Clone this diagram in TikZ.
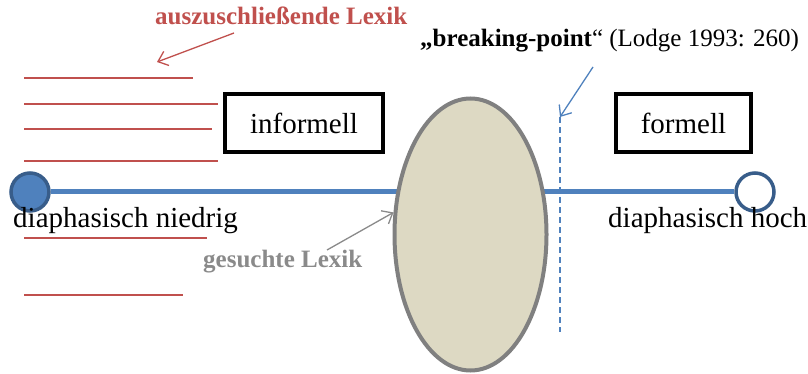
\documentclass[tikz,border=0pt]{standalone}
\usepackage{fontspec}
\setmainfont{Liberation Serif}
\usetikzlibrary{shapes.geometric,arrows.meta,backgrounds}
\definecolor{lexred}{HTML}{C0504D}
\definecolor{axisblue}{HTML}{4F81BD}
\definecolor{ringblue}{HTML}{385D8A}
\definecolor{eggfill}{HTML}{DDD9C3}
\definecolor{egggray}{HTML}{808080}
\definecolor{labelgray}{HTML}{8A8A8A}
\tikzset{
  maintext/.style={font=\fontsize{29}{32}\selectfont, inner sep=0pt},
  labeltext/.style={font=\fontsize{25}{28}\selectfont, inner sep=0pt},
  regbox/.style={draw=black, line width=4pt, minimum width=158pt, minimum height=58pt, font=\fontsize{29}{32}\selectfont},
  exclline/.style={draw=lexred, line width=1.6pt},
  endpoint/.style={circle, minimum size=38pt, inner sep=0pt, line width=3.5pt, draw=ringblue},
  barb/.style={-{Straight Barb[length=9pt,width=15pt,line width=1.3pt]}, line width=1.3pt}
}
\begin{document}
\begin{tikzpicture}[x=1pt,y=-1pt]
  \useasboundingbox (0,0) rectangle (808,374);

  % excluded vocabulary (red lines on the left)
  \foreach \yy/\xe [count=\i] in {78/193, 104/218, 129/212, 161/218, 238/207, 295/183} {
    \coordinate (l\i a) at (24,\yy);
    \coordinate (l\i b) at (\xe,\yy);
    \draw[exclline] (l\i a) -- (l\i b);
  }

  % register axis with its two end points
  \node[endpoint, fill=axisblue] (lo) at (30,192) {};
  \node[endpoint, fill=white] (hi) at (755,192) {};
  \begin{scope}[on background layer]
    \draw[axisblue, line width=5pt] (lo.east) -- (hi.west);
  \end{scope}

  % the sought vocabulary
  \node[ellipse, draw=egggray, fill=eggfill, line width=4pt, minimum width=152pt, minimum height=272pt, inner sep=0pt] (egg) at (470.5,234.5) {};

  % breaking point
  \coordinate (bptop) at (560,117);
  \coordinate (bpbot) at (560,332);
  \draw[axisblue, line width=1.4pt, dash pattern=on 6pt off 4pt] (bptop) -- (bpbot);

  % register boxes
  \node[regbox] (inf) at (304,123) {informell};
  \node[regbox, minimum width=135pt] (form) at (683.5,123.5) {formell};

  % axis end labels
  \node[maintext, anchor=base west] (low) at (13,227) {diaphasisch niedrig};
  \node[maintext, anchor=base west] (high) at (608,227) {diaphasisch hoch};

  % annotations
  \node[labeltext, anchor=base west, text=lexred] (excl) at (155,25) {\bfseries auszuschließende Lexik};
  \coordinate (excltail) at (234,33);
  \coordinate (exclhead) at (157,62);
  \draw[barb, lexred] (excltail) -- (exclhead);

  \node[labeltext, anchor=base west] (bp) at (420,47) {{\bfseries „breaking-point}“ (Lodge 1993: 260)};
  \coordinate (bptail) at (593,67);
  \draw[barb, axisblue] (bptail) -- (bptop);

  \node[labeltext, anchor=base west, text=labelgray] (sought) at (203,267) {\bfseries gesuchte Lexik};
  \coordinate (soughttail) at (327,250);
  \draw[barb, labelgray] (soughttail) -- (egg.164);
\end{tikzpicture}
\end{document}
